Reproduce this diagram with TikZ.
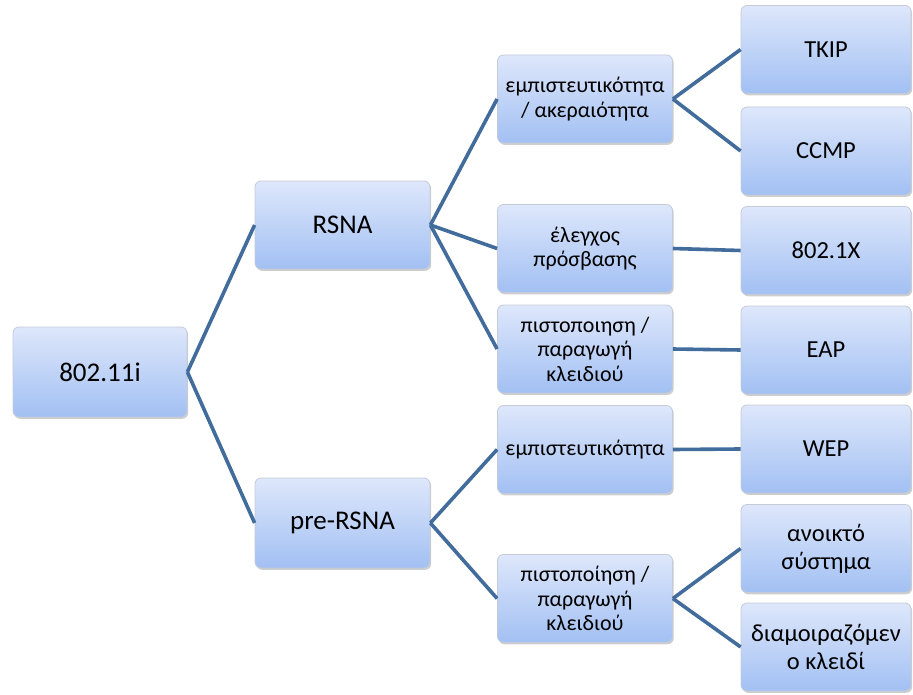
\documentclass[tikz,border=0pt]{standalone}
\usepackage{fontspec}
\setmainfont{Carlito}
\usetikzlibrary{shadows}
\definecolor{boxtop}{HTML}{DEE7FB}
\definecolor{boxbottom}{HTML}{A2C0F3}
\definecolor{boxedge}{HTML}{C3CBD8}
\definecolor{linkblue}{HTML}{416C9C}
\begin{document}
\begin{tikzpicture}[x=1pt,y=-1pt,
  box/.style={draw=boxedge, line width=0.8pt, rounded corners=6pt,
    top color=boxtop, bottom color=boxbottom,
    drop shadow={shadow xshift=1.2pt, shadow yshift=-1.8pt, opacity=0.35, fill=black!55},
    minimum width=#1, minimum height=88pt, inner sep=1pt,
    align=center, font=\fontsize{22}{24.5}\selectfont, text=black},
  box/.default=175pt,
  top/.style={box=175pt, font=\fontsize{27}{31}\selectfont},
  leaf/.style={box=170pt, font=\fontsize{24.5}{28}\selectfont},
  link/.style={draw=linkblue, line width=3.6pt}]
\useasboundingbox (0,0) rectangle (913,695);
% level 0 and 1
\node[top, minimum width=174pt, minimum height=90pt] (root) at (100,372) {802.11i};
\node[top] (rsna) at (342.5,225) {RSNA};
\node[top, minimum height=90pt] (pre) at (342.5,523) {pre-RSNA};
% level 2
\node[box] (conf) at (585,99) {εμπιστευτικότητα\\/ ακεραιότητα};
\node[box] (acc) at (585,248.5) {έλεγχος\\πρόσβασης};
\node[box] (auth) at (585,349) {πιστοποιηση /\\παραγωγή\\κλειδιού};
\node[box] (wconf) at (585,449.5) {εμπιστευτικότητα};
\node[box] (wauth) at (585,598.5) {πιστοποίηση /\\παραγωγή\\κλειδιού};
% level 3
\node[leaf] (tkip) at (826,49.5) {TKIP};
\node[leaf] (ccmp) at (826,151) {CCMP};
\node[leaf] (dotx) at (826,250.5) {802.1X};
\node[leaf] (eap) at (826,350) {EAP};
\node[leaf] (wep) at (826,449) {WEP};
\node[leaf] (open) at (826,548.5) {ανοικτό\\σύστημα};
\node[leaf] (shared) at (826,647) {διαμοιραζόμεν\\ο κλειδί};
% connectors
\foreach \a/\b in {root/rsna, root/pre,
  rsna/conf, rsna/acc, rsna/auth,
  pre/wconf, pre/wauth,
  conf/tkip, conf/ccmp, acc/dotx, auth/eap, wconf/wep,
  wauth/open, wauth/shared}
  \draw[link] (\a.east) -- (\b.west);
\end{tikzpicture}
\end{document}
